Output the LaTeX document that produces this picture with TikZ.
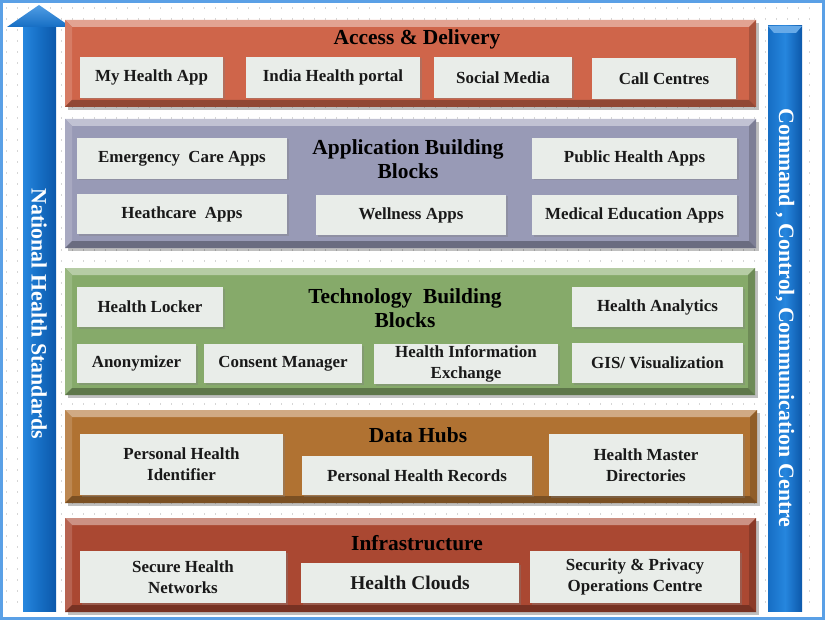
\documentclass[tikz,border=0pt]{standalone}
\usepackage{fontspec}
\setmainfont{Liberation Serif}
\usepackage{tikz}
\usetikzlibrary{shadows}
\definecolor{framecol}{RGB}{90,160,230}
\definecolor{dotcol}{RGB}{214,214,214}
\definecolor{boxcol}{RGB}{233,237,233}
\definecolor{accesscol}{RGB}{207,101,74}
\definecolor{appcol}{RGB}{152,154,182}
\definecolor{techcol}{RGB}{134,170,106}
\definecolor{hubcol}{RGB}{176,114,50}
\definecolor{infracol}{RGB}{170,72,50}
\definecolor{bluelt}{RGB}{38,134,222}
\definecolor{bluemd}{RGB}{22,110,196}
\definecolor{bluedk}{RGB}{12,88,170}
\newcommand*{\bev  }{7}
\newcommand*{\itemfont }{\fontsize{17}{21}\selectfont\bfseries}
\newcommand*{\titlefont}{\fontsize{21.5}{24}\selectfont\bfseries}
\newcommand*{\sidefont }{\fontsize{22}{24}\selectfont\bfseries}
% bevelled band: x1 y1 x2 y2 colour
\newcommand*{\drawlayer}[5]{%
    \fill [black, opacity=.25] ({#1+3},{#2+3}) rectangle ({#3+3},{#4+3});
    \fill [#5] (#1,#2) rectangle (#3,#4);
    \fill [#5!60!white] (#1,#2) -- (#3,#2) -- ({#3-\bev},{#2+\bev}) -- ({#1+\bev},{#2+\bev}) -- cycle;
    \fill [#5!85!white] (#1,#2) -- ({#1+\bev},{#2+\bev}) -- ({#1+\bev},{#4-\bev}) -- (#1,#4) -- cycle;
    \fill [#5!82!black] (#3,#2) -- ({#3-\bev},{#2+\bev}) -- ({#3-\bev},{#4-\bev}) -- (#3,#4) -- cycle;
    \fill [#5!70!black] (#1,#4) -- ({#1+\bev},{#4-\bev}) -- ({#3-\bev},{#4-\bev}) -- (#3,#4) -- cycle;
}
% grey item box: name x1 y1 x2 y2 text
\newcommand*{\itembox}[6]{%
    \node [item, minimum width={(#4-#2)*1bp}, minimum height={(#5-#3)*1bp}] (#1) at ({(#2+#4)/2},{(#3+#5)/2}) {#6};
}
\tikzset{
    item/.style  = {fill=boxcol, draw=none, align=center, inner sep=0pt, text=black!90, font=\itemfont,
                    drop shadow={opacity=.35, shadow xshift=1.5bp, shadow yshift=-1.5bp}},
    title/.style = {align=center, inner sep=0pt, text=black, font=\titlefont},
    side/.style  = {rotate=-90, inner sep=0pt, text=white, font=\sidefont}
}
\begin{document}
\begin{tikzpicture}[x=1bp, y=-1bp]
    \useasboundingbox (0,0) rectangle (825,620);
    \fill [white] (0,0) rectangle (825,620);
    \foreach \yy in {8,19,...,612}
        \draw [dotcol, line width=1.2bp, dash pattern=on 1.2bp off 9.8bp] (6,\yy) -- (820,\yy);
    \draw [framecol, line width=3bp] (1.5,1.5) rectangle (823.5,618.5);

    % side bars
    \shade [left color=bluelt, right color=bluedk, middle color=bluemd] (23,27) rectangle (56,611);
    \shade [top color=bluelt!80!white, bottom color=bluemd] (7,27) -- (39,5) -- (71,27) -- cycle;
    \node [side] (nhs) at (39,314) {National Health Standards};
    \shade [left color=bluemd, right color=bluedk, middle color=bluelt] (768,26) rectangle (802,611);
    \fill [bluelt!70!white] (768,26) -- (802,26) -- (796,33) -- (774,33) -- cycle;
    \node [side] (ccc) at (785,318) {Command , Control, Communication Centre};

    % bands
    \drawlayer{65}{20}{756}{107}{accesscol}
    \drawlayer{65}{119}{756}{248}{appcol}
    \drawlayer{65}{268}{755}{395}{techcol}
    \drawlayer{65}{410}{757}{503}{hubcol}
    \drawlayer{65}{518}{756}{612}{infracol}

    \node [title] (access) at (417,39) {Access \& Delivery};
    \itembox{myapp}{80}{57}{223}{98}{My Health App}
    \itembox{portal}{246}{57}{420}{98}{India Health portal}
    \itembox{social}{434}{57}{572}{98}{Social Media}
    \itembox{callc}{592}{58}{736}{99}{Call Centres}

    \node [title] (apps) at (408,159) {Application Building\\Blocks};
    \itembox{emerg}{77}{138}{287}{179}{Emergency~ Care Apps}
    \itembox{hcare}{77}{194}{287}{234}{Heathcare~ Apps}
    \itembox{well}{316}{195}{506}{235}{Wellness Apps}
    \itembox{public}{532}{138}{737}{179}{Public Health Apps}
    \itembox{medu}{532}{195}{737}{235}{Medical Education Apps}

    \node [title] (tech) at (405,308) {Technology~ Building\\Blocks};
    \itembox{locker}{77}{287}{223}{327}{Health Locker}
    \itembox{anon}{77}{344}{196}{383}{Anonymizer}
    \itembox{consent}{204}{344}{362}{383}{Consent Manager}
    \itembox{hie}{374}{344}{558}{384}{Health Information\\Exchange}
    \itembox{analytics}{572}{287}{743}{327}{Health Analytics}
    \itembox{gis}{572}{343}{743}{383}{GIS/ Visualization}

    \node [title] (hubs) at (418,435) {Data Hubs};
    \itembox{phi}{80}{434}{283}{495}{Personal Health\\Identifier}
    \itembox{phr}{302}{456}{532}{495}{Personal Health Records}
    \itembox{hmd}{549}{434}{743}{496}{Health Master\\Directories}

    \node [title] (infra) at (417,543) {Infrastructure};
    \itembox{shn}{80}{551}{286}{603}{Secure Health\\Networks}
    \itembox{clouds}{301}{563}{519}{603}{\fontsize{19.5}{22}\selectfont Health Clouds}
    \itembox{spoc}{530}{551}{740}{603}{Security \& Privacy\\Operations Centre}
\end{tikzpicture}
\end{document}
